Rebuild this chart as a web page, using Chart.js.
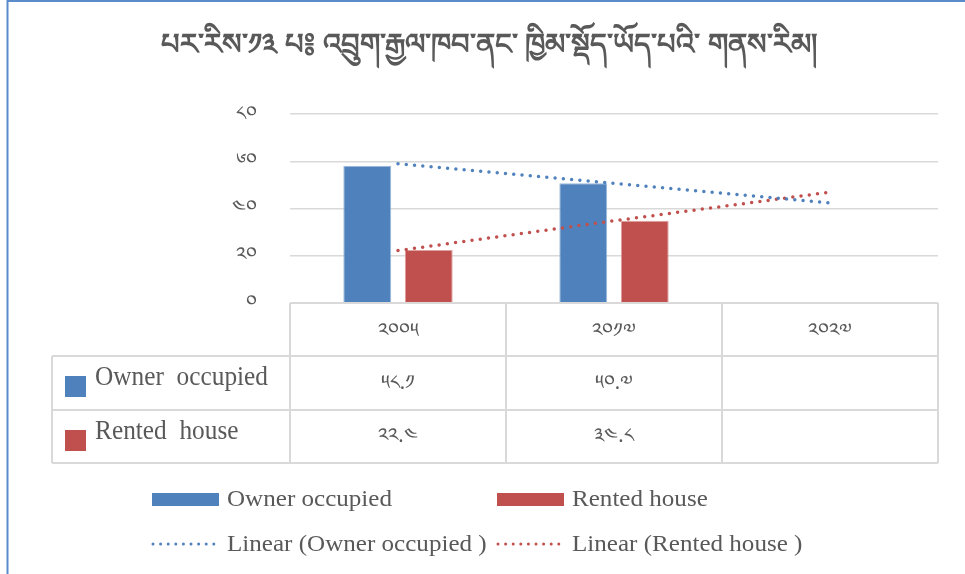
<!DOCTYPE html>
<html>
<head>
<meta charset="utf-8">
<script src="https://cdn.jsdelivr.net/npm/chart.js@4.4.1/dist/chart.umd.min.js"></script>
<style>
  html, body { margin: 0; padding: 0; background: #ffffff; }
  #wrap { width: 965px; height: 574px; position: relative; }
</style>
</head>
<body>
<div id="wrap"><canvas id="c" width="965" height="574"></canvas></div>
<script>
// ---- data ----
const titleText = 'པར་རིས་༡༣ པ༔ འབྲུག་རྒྱལ་ཁབ་ནང་ ཁྱིམ་སྡོད་ཡོད་པའི་ གནས་རིམ།';
const categories = ['༢༠༠༥', '༢༠༡༧', '༢༠༢༧'];
const ownerValues = [58.1, 50.7, null];
const rentedValues = [22.4, 34.8, null];
const ownerTrend = [58.9, 50.7, 42.4];
const rentedTrend = [22.2, 34.8, 46.9];
const yTickValues = [0, 20, 40, 60, 80];
const yTickLabels = ['༠', '༢༠', '༤༠', '༦༠', '༨༠'];
const seriesNames = ['Owner occupied', 'Rented house'];
const trendNames = ['Linear (Owner occupied )', 'Linear (Rented house )'];
const tableRowLabels = ['Owner  occupied', 'Rented  house'];

// ---- styles ----
const BLUE = '#4F81BD';
const RED = '#C0504D';
const TEXT = '#595959';
const GRID = '#d9d9d9';
const TIB_FONT = '"Noto Sans", "DejaVu Sans", sans-serif';
const SERIF = '"Liberation Serif", "DejaVu Serif", serif';

const tibDigits = '༠༡༢༣༤༥༦༧༨༩';
function toTib(v) {
  if (v === null || v === undefined) return '';
  return String(v).replace(/[0-9]/g, d => tibDigits[+d]);
}

function fitText(ctx, text, x, y, font, scaleX) {
  ctx.save();
  ctx.font = font;
  ctx.translate(x, y);
  ctx.scale(scaleX, 1);
  ctx.fillText(text, 0, 0);
  ctx.restore();
}

const decor = {
  id: 'decor',
  beforeDraw(chart) {
    const ctx = chart.ctx;
    ctx.save();
    ctx.fillStyle = '#ffffff';
    ctx.fillRect(0, 0, chart.width, chart.height);
    // outer frame (left and top edges visible)
    ctx.strokeStyle = '#5B8BC9';
    ctx.lineWidth = 2;
    ctx.beginPath();
    ctx.moveTo(7.5, chart.height + 2);
    ctx.lineTo(7.5, 1);
    ctx.lineTo(chart.width + 2, 1);
    ctx.stroke();
    // title
    ctx.fillStyle = TEXT;
    ctx.font = 'bold 29px ' + TIB_FONT;
    ctx.textAlign = 'center';
    ctx.textBaseline = 'middle';
    ctx.fillText(titleText, 489, 46);
    ctx.restore();
  },
  afterDraw(chart) {
    const ctx = chart.ctx;
    const { left, right, bottom } = chart.chartArea;
    const xs = chart.scales.x;
    const n = categories.length;
    const colW = (right - left) / n;
    const tableLeft = 52;
    const hTop = bottom;
    const hBot = bottom + 53;
    const r1Bot = bottom + 107;
    const r2Bot = bottom + 160;

    ctx.save();
    ctx.strokeStyle = GRID;
    ctx.lineWidth = 2;
    ctx.beginPath();
    ctx.moveTo(left, hTop); ctx.lineTo(right, hTop);
    [hBot, r1Bot, r2Bot].forEach(y => { ctx.moveTo(tableLeft, y); ctx.lineTo(right, y); });
    for (let i = 0; i <= n; i++) {
      const x = left + i * colW;
      ctx.moveTo(x, hTop); ctx.lineTo(x, r2Bot);
    }
    ctx.moveTo(tableLeft, hBot); ctx.lineTo(tableLeft, r2Bot);
    ctx.stroke();

    // header + cells
    ctx.fillStyle = TEXT;
    ctx.textAlign = 'center';
    ctx.textBaseline = 'middle';
    ctx.font = '20px ' + TIB_FONT;
    const rows = [ownerValues, rentedValues];
    categories.forEach((c, i) => {
      const cx = xs.getPixelForValue(i);
      ctx.fillText(c, cx, hTop + 28);
      ctx.fillText(toTib(rows[0][i]), cx, hBot + 27);
      ctx.fillText(toTib(rows[1][i]), cx, r1Bot + 26);
    });

    // row labels with color keys
    const colors = [BLUE, RED];
    const rowMid = [hBot + 26, r1Bot + 26];
    ctx.font = '28px ' + SERIF;
    const w0 = ctx.measureText(tableRowLabels[0]).width;
    const sx = 173 / w0;
    ctx.textAlign = 'left';
    ctx.textBaseline = 'middle';
    tableRowLabels.forEach((t, i) => {
      ctx.fillStyle = colors[i];
      ctx.fillRect(65, rowMid[i] - 6, 21, 21);
      ctx.fillStyle = TEXT;
      fitText(ctx, t, 95, rowMid[i] - 4, '28px ' + SERIF, sx);
    });

    // bottom legend
    const legX = [152, 497];
    const legRowY = [499, 544];
    ctx.font = '23px ' + SERIF;
    const lw = ctx.measureText(seriesNames[0]).width;
    const lsx = 165 / lw;
    seriesNames.forEach((t, i) => {
      ctx.fillStyle = colors[i];
      ctx.fillRect(legX[i], legRowY[0] - 6, 67, 13);
      ctx.fillStyle = TEXT;
      fitText(ctx, t, legX[i] + 75, legRowY[0] + 1, '23px ' + SERIF, lsx);
    });
    trendNames.forEach((t, i) => {
      ctx.save();
      ctx.strokeStyle = colors[i];
      ctx.lineWidth = 3;
      ctx.lineCap = 'round';
      ctx.setLineDash([0, 7.6]);
      ctx.beginPath();
      ctx.moveTo(legX[i] + 1, legRowY[1]);
      ctx.lineTo(legX[i] + 67, legRowY[1]);
      ctx.stroke();
      ctx.restore();
      ctx.fillStyle = TEXT;
      fitText(ctx, t, legX[i] + 75, legRowY[1] + 1, '23px ' + SERIF, lsx);
    });
    ctx.restore();
  }
};

new Chart(document.getElementById('c'), {
  type: 'bar',
  data: {
    labels: categories,
    datasets: [
      {
        type: 'line', label: trendNames[0], data: ownerTrend, order: 0,
        borderColor: BLUE, borderWidth: 3.5, borderDash: [0, 8.3], borderCapStyle: 'round',
        pointRadius: 0, fill: false, tension: 0
      },
      {
        type: 'line', label: trendNames[1], data: rentedTrend, order: 0,
        borderColor: RED, borderWidth: 3.5, borderDash: [0, 8.3], borderCapStyle: 'round',
        pointRadius: 0, fill: false, tension: 0
      },
      {
        label: seriesNames[0], data: ownerValues, order: 1,
        backgroundColor: BLUE, borderColor: '#9db8dc', borderWidth: 1,
        categoryPercentage: 0.569, barPercentage: 0.78
      },
      {
        label: seriesNames[1], data: rentedValues, order: 1,
        backgroundColor: RED, borderColor: '#dda3a1', borderWidth: 1,
        categoryPercentage: 0.569, barPercentage: 0.78
      }
    ]
  },
  options: {
    responsive: false,
    animation: false,
    layout: { padding: { top: 114, right: 27, bottom: 271, left: 0 } },
    plugins: { legend: { display: false }, title: { display: false }, tooltip: { enabled: false } },
    scales: {
      x: { display: false, offset: true },
      y: {
        min: 0, max: 80,
        afterFit(scale) { scale.width = 290; },
        afterBuildTicks(scale) { scale.ticks = yTickValues.map(v => ({ value: v })); },
        border: { display: false },
        grid: { color: GRID, lineWidth: 1.5, drawTicks: false },
        ticks: {
          padding: 33,
          color: TEXT,
          font: { size: 20, family: TIB_FONT },
          callback: (v) => yTickLabels[yTickValues.indexOf(v)]
        }
      }
    }
  },
  plugins: [decor]
});
</script>
</body>
</html>
